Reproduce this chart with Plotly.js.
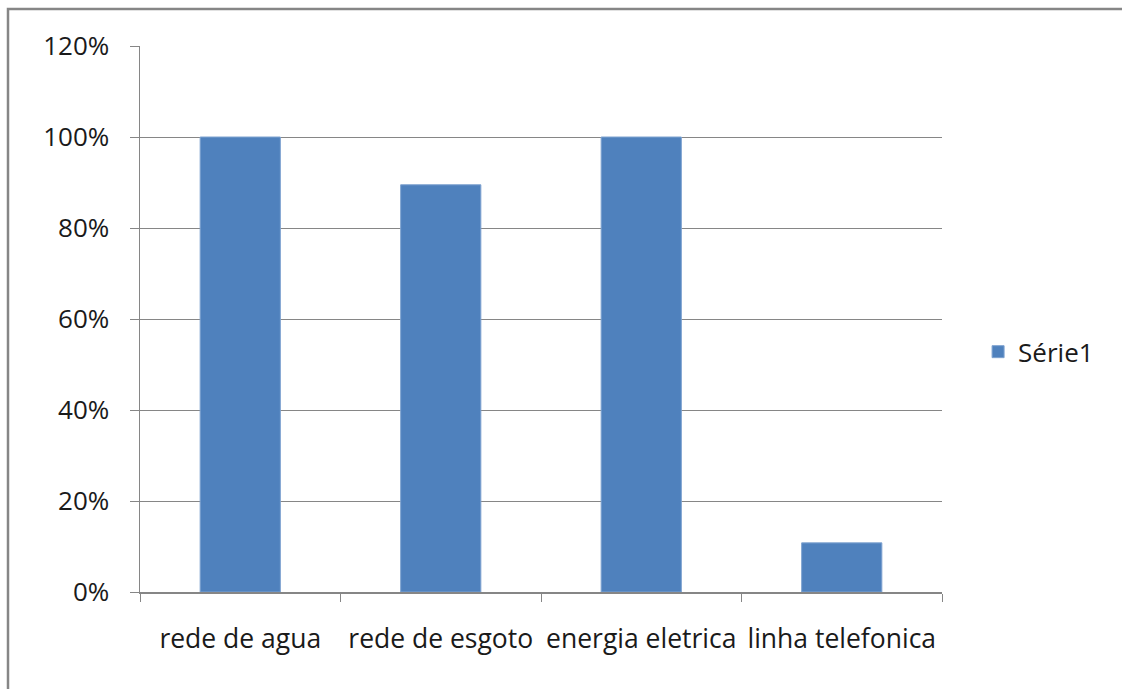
<!DOCTYPE html>
<html>
<head>
<meta charset="utf-8">
<script src="https://cdn.plot.ly/plotly-3.0.1.min.js"></script>
<style>html,body{margin:0;padding:0;background:#fff;}#chart{width:1122px;height:689px;}</style>
</head>
<body>
<div id="chart"></div>
<script>
const categories = ["rede de agua", "rede de esgoto", "energia eletrica", "linha telefonica"];
const serie1 = [1.00, 0.895, 1.00, 0.108];
const seriesName = "Série1";
const yTicks = [0, 0.2, 0.4, 0.6, 0.8, 1.0, 1.2];
const yTickLabels = ["0%", "20%", "40%", "60%", "80%", "100%", "120%"];

const L = 140, R = 1122 - 942, T = 46, B = 689 - 592;
const pw = 1122 - L - R, ph = 689 - T - B;
const FONT = "'Open Sans', Lato, sans-serif";

const trace = {
  type: "bar", x: categories, y: serie1, name: seriesName,
  marker: {color: "#4F81BD", line: {color: "#7FA3D0", width: 1}},
  showlegend: true
};
const layout = {
  width: 1122, height: 689,
  margin: {l: L, r: R, t: T, b: B, pad: 0},
  paper_bgcolor: "#fff", plot_bgcolor: "#fff",
  font: {family: FONT, size: 24, color: "#1a1a1a"},
  bargap: 0.6,
  showlegend: true,
  legend: {x: 1.045, xanchor: "left", y: 0.44, yanchor: "middle", font: {family: FONT, size: 26, color: "#1a1a1a"}, itemwidth: 30, bgcolor: "rgba(0,0,0,0)"},
  xaxis: {
    type: "category", tickson: "boundaries", ticks: "outside", ticklen: 8, tickcolor: "#868686",
    showline: true, linecolor: "#868686", linewidth: 1.5, showgrid: false,
    tickfont: {family: FONT, size: 26.5, color: "#1a1a1a"},
    ticklabelstandoff: 23, fixedrange: true
  },
  yaxis: {
    range: [0, 1.2], tickvals: yTicks, ticktext: yTickLabels,
    ticks: "outside", ticklen: 9, tickcolor: "#868686",
    showline: true, linecolor: "#868686", linewidth: 1.5,
    showgrid: true, gridcolor: "#868686", gridwidth: 1, zeroline: false,
    tickfont: {family: FONT, size: 26, color: "#1a1a1a"},
    ticklabelstandoff: 15, fixedrange: true
  },
  shapes: [{
    type: "rect", xref: "paper", yref: "paper",
    x0: (8 - L) / pw, x1: 1.5, y0: -0.5, y1: 1 + (T - 9) / ph,
    line: {color: "#868686", width: 2.5}, fillcolor: "rgba(0,0,0,0)", layer: "below"
  }]
};
Plotly.newPlot("chart", [trace], layout, {displayModeBar: false, staticPlot: true});
</script>
</body>
</html>
